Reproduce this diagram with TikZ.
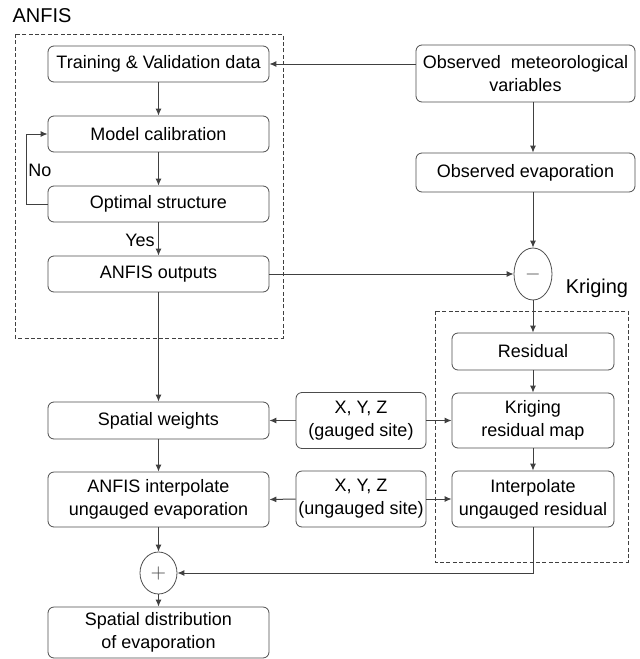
\documentclass[tikz,border=0pt]{standalone}
\usepackage{fontspec}
\setmainfont{Liberation Sans}
\usetikzlibrary{arrows.meta,shapes.geometric}

\tikzset{
    box/.style={draw=black!70, rounded corners=3pt, align=center, inner sep=0pt,
        font=\fontsize{9}{11.5}\selectfont},
    sumnode/.style={draw=black!70, ellipse, inner sep=0pt, text=black!70},
    link/.style={draw=black!75, line width=0.5pt, -{Latex[length=3.5pt,width=3pt]}},
    zone/.style={draw=black!75, dash pattern=on 2pt off 1.2pt, line width=0.5pt}
}

\begin{document}
\begin{tikzpicture}[x=0.5pt, y=-0.5pt]
    \useasboundingbox (0,0) rectangle (639,659);
    % dashed zones
    \draw[zone] (15,34) rectangle (283,338);
    \draw[zone] (435,311) rectangle (628,562);
    \node (anfislbl) at (42,16) {\fontsize{10}{12}\selectfont ANFIS};
    \node (kriglbl) at (597,288) {\fontsize{10}{12}\selectfont Kriging};
    % left column
    \node[box, minimum width=110.5pt, minimum height=18pt] (train) at (158.5,64) {Training \& Validation data};
    \node[box, minimum width=110.5pt, minimum height=18pt] (calib) at (158.5,134) {Model calibration};
    \node[box, minimum width=110.5pt, minimum height=18pt] (optim) at (158.5,204) {Optimal structure};
    \node[box, minimum width=110.5pt, minimum height=18pt] (aout) at (158.5,274) {ANFIS outputs};
    \node[box, minimum width=110.5pt, minimum height=18.5pt] (sweights) at (158.5,420.5) {Spatial weights};
    \node[box, minimum width=110.5pt, minimum height=27.5pt] (anfisint) at (158.5,499.5) {ANFIS interpolate\\ungauged evaporation};
    \node[sumnode, minimum width=18.5pt, minimum height=21pt] (plus) at (158.5,573) {$+$};
    \node[box, minimum width=110.5pt, minimum height=25.5pt] (sdist) at (158.5,632.5) {Spatial distribution\\of evaporation};
    % right column
    \node[box, minimum width=109.5pt, minimum height=28.5pt] (obsmet) at (525.5,73.5) {Observed\ \ meteorological\\variables};
    \node[box, minimum width=109.5pt, minimum height=19.5pt] (obsevap) at (525.5,172.5) {Observed evaporation};
    \node[sumnode, minimum width=19pt, minimum height=26pt] (minus) at (533,274) {$-$};
    \node[box, minimum width=81pt, minimum height=18.5pt] (resid) at (533,351.5) {Residual};
    \node[box, minimum width=81pt, minimum height=27.5pt] (kmap) at (533,420.5) {Kriging\\residual map};
    \node[box, minimum width=81pt, minimum height=28pt] (interp) at (533,499) {Interpolate\\ungauged residual};
    % coordinate boxes
    \node[box, minimum width=65pt, minimum height=28pt] (gauged) at (361,420.5) {X, Y, Z\\(gauged site)};
    \node[box, minimum width=65pt, minimum height=28pt] (ungauged) at (361,499) {X, Y, Z\\(ungauged site)};
    % ANFIS flow
    \draw[link] (obsmet.west |- train) -- (train.east);
    \draw[link] (train) -- (calib);
    \draw[link] (calib) -- (optim);
    \draw[link] (optim) -- (aout);
    \node[font=\fontsize{9}{11}\selectfont] (yes) at (140,240) {Yes};
    \draw[link] (optim.west) -- ++(-21,0) |- (calib.west);
    \node[font=\fontsize{9}{11}\selectfont] (no) at (40,170) {No};
    % observed branch
    \draw[link] (obsmet.south -| minus) -- (obsevap.north -| minus);
    \draw[link] (obsevap.south -| minus) -- (minus.north);
    \draw[link] (aout.east) -- (minus.west);
    % kriging flow
    \draw[link] (minus.south) -- (resid.north);
    \draw[link] (resid) -- (kmap);
    \draw[link] (kmap) -- (interp);
    % interpolation
    \draw[link] (aout) -- (sweights);
    \draw[link] (sweights) -- (anfisint);
    \draw[link] (anfisint) -- (plus);
    \draw[link] (plus) -- (sdist);
    \draw[link] (gauged.west) -- (sweights.east);
    \draw[link] (gauged.east) -- (kmap.west);
    \draw[link] (ungauged.west) -- (anfisint.east);
    \draw[link] (ungauged.east) -- (interp.west);
    \draw[link] (interp.south) |- (plus.east);
\end{tikzpicture}
\end{document}
